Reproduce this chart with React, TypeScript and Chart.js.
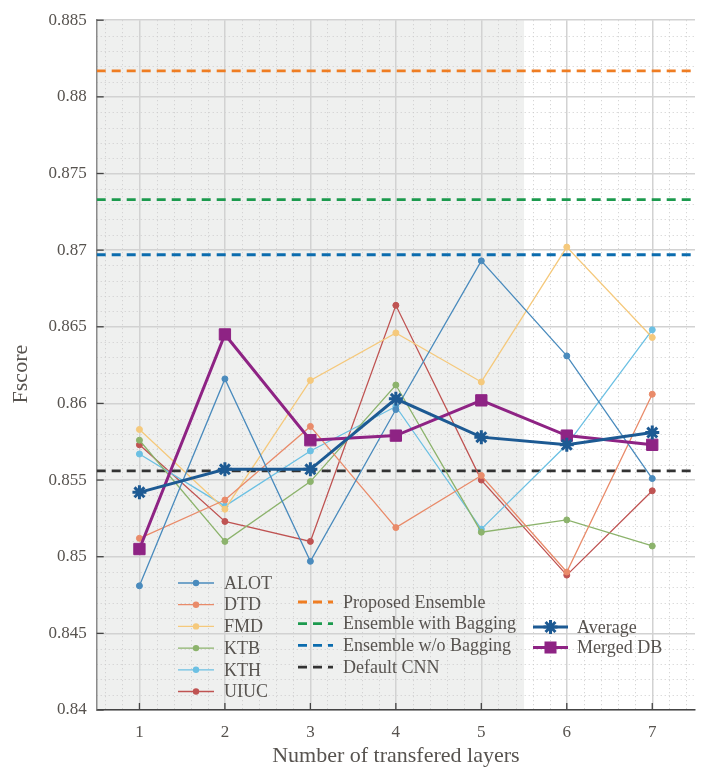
import React, { useEffect, useRef } from 'react';
import { Chart, registerables } from 'chart.js';

Chart.register(...registerables);

// ---- data ----
const layers = [1, 2, 3, 4, 5, 6, 7];
const alot = [0.8481, 0.8616, 0.8497, 0.8596, 0.8693, 0.8631, 0.8551];
const dtd = [0.8512, 0.8537, 0.8585, 0.8519, 0.8553, 0.8490, 0.8606];
const fmd = [0.8583, 0.8531, 0.8615, 0.8646, 0.8614, 0.8702, 0.8643];
const ktb = [0.8576, 0.8510, 0.8549, 0.8612, 0.8516, 0.8524, 0.8507];
const kth = [0.8567, 0.8533, 0.8569, 0.8598, 0.8518, 0.8573, 0.8648];
const uiuc = [0.8573, 0.8523, 0.8510, 0.8664, 0.8550, 0.8488, 0.8543];
const average = [0.8542, 0.8557, 0.8557, 0.8603, 0.8578, 0.8573, 0.8581];
const mergedDB = [0.8505, 0.8645, 0.8576, 0.8579, 0.8602, 0.8579, 0.8573];

const proposedEnsemble = 0.8817;
const ensembleWithBagging = 0.8733;
const ensembleWithoutBagging = 0.8697;
const defaultCNN = 0.8556;

const xRange = [0.5, 7.5];
const shadeRange = [0.5, 5.5];
const yTicks = [0.84, 0.845, 0.85, 0.855, 0.86, 0.865, 0.87, 0.875, 0.88, 0.885];

const FONT = '"Liberation Serif", "DejaVu Serif", serif';
const TEXT = '#57534f';

const seriesDefs = [
  { label: 'ALOT', data: alot, color: '#4a8bbd' },
  { label: 'DTD', data: dtd, color: '#e98b6a' },
  { label: 'FMD', data: fmd, color: '#f5c97c' },
  { label: 'KTB', data: ktb, color: '#8cb36c' },
  { label: 'KTH', data: kth, color: '#6cc0e3' },
  { label: 'UIUC', data: uiuc, color: '#bf5352' },
];

const refDefs = [
  { label: 'Proposed Ensemble', value: proposedEnsemble, color: '#ef7d22' },
  { label: 'Ensemble with Bagging', value: ensembleWithBagging, color: '#1c9a4e' },
  { label: 'Ensemble w/o Bagging', value: ensembleWithoutBagging, color: '#0b6cae' },
  { label: 'Default CNN', value: defaultCNN, color: '#333333' },
];

const AVG_COLOR = '#1d5a93';
const MERGED_COLOR = '#8e2384';

const toPts = (vals: number[]) => layers.map((x, i) => ({ x, y: vals[i] }));

function drawMarker(ctx: CanvasRenderingContext2D, kind: string, x: number, y: number, r: number, color: string, lw: number) {
  ctx.save();
  ctx.fillStyle = color;
  ctx.strokeStyle = color;
  ctx.lineWidth = lw;
  ctx.setLineDash([]);
  ctx.beginPath();
  if (kind === 'circle') {
    ctx.arc(x, y, r, 0, Math.PI * 2);
    ctx.fill();
  } else if (kind === 'rect') {
    const s = r * Math.SQRT1_2;
    ctx.fillRect(x - s, y - s, 2 * s, 2 * s);
  } else if (kind === 'star') {
    for (let k = 0; k < 4; k++) {
      const a = (k * Math.PI) / 4;
      ctx.moveTo(x - Math.sin(a) * r, y - Math.cos(a) * r);
      ctx.lineTo(x + Math.sin(a) * r, y + Math.cos(a) * r);
    }
    ctx.stroke();
  }
  ctx.restore();
}

const decorPlugin = {
  id: 'decor',
  beforeDraw(chart: any) {
    const { ctx, chartArea: a, scales } = chart;
    const xs = scales.x;
    const ys = scales.y;
    ctx.save();
    // shaded span
    const sx0 = xs.getPixelForValue(shadeRange[0]);
    const sx1 = xs.getPixelForValue(shadeRange[1]);
    ctx.fillStyle = '#eff0ef';
    ctx.fillRect(sx0, a.top, sx1 - sx0, a.bottom - a.top);
    // minor dotted grid
    ctx.strokeStyle = '#cdcdcd';
    ctx.lineWidth = 1;
    ctx.setLineDash([1, 3]);
    for (let k = 3; k <= 37; k++) {
      if (k % 5 === 0) continue;
      const px = Math.round(xs.getPixelForValue(k * 0.2)) + 0.5;
      ctx.beginPath();
      ctx.moveTo(px, a.top);
      ctx.lineTo(px, a.bottom);
      ctx.stroke();
    }
    for (let k = 1; k < 45; k++) {
      if (k % 5 === 0) continue;
      const py = Math.round(ys.getPixelForValue(0.84 + k * 0.001)) + 0.5;
      ctx.beginPath();
      ctx.moveTo(a.left, py);
      ctx.lineTo(a.right, py);
      ctx.stroke();
    }
    ctx.restore();
  },
  afterDraw(chart: any) {
    const { ctx, chartArea: a, scales } = chart;
    const xs = scales.x;
    const ys = scales.y;
    ctx.save();
    // inward tick marks
    ctx.strokeStyle = '#444';
    ctx.lineWidth = 1.3;
    ctx.setLineDash([]);
    yTicks.forEach((v) => {
      const py = ys.getPixelForValue(v);
      ctx.beginPath();
      ctx.moveTo(a.left, py);
      ctx.lineTo(a.left + 7, py);
      ctx.stroke();
    });
    layers.forEach((v) => {
      const px = xs.getPixelForValue(v);
      ctx.beginPath();
      ctx.moveTo(px, a.bottom);
      ctx.lineTo(px, a.bottom - 7);
      ctx.stroke();
    });

    // y-axis title
    ctx.save();
    ctx.translate(21, (a.top + a.bottom) / 2 + 9);
    ctx.rotate(-Math.PI / 2);
    ctx.font = `22px ${FONT}`;
    ctx.fillStyle = TEXT;
    ctx.textAlign = 'center';
    ctx.textBaseline = 'middle';
    ctx.fillText('Fscore', 0, 0);
    ctx.restore();

    // legends
    ctx.font = `18px ${FONT}`;
    ctx.textBaseline = 'middle';
    ctx.textAlign = 'left';
    // legend 1: series
    seriesDefs.forEach((s, i) => {
      const y = 583 + i * 21.7;
      ctx.strokeStyle = s.color;
      ctx.lineWidth = 1.3;
      ctx.beginPath();
      ctx.moveTo(178, y);
      ctx.lineTo(214, y);
      ctx.stroke();
      drawMarker(ctx, 'circle', 196, y, 3.2, s.color, 1);
      ctx.fillStyle = TEXT;
      ctx.fillText(s.label, 224, y + 1);
    });
    // legend 2: reference lines
    refDefs.forEach((r, i) => {
      const y = 602 + i * 21.7;
      ctx.strokeStyle = r.color;
      ctx.lineWidth = 2.8;
      ctx.setLineDash([9, 6]);
      ctx.beginPath();
      ctx.moveTo(298, y);
      ctx.lineTo(333, y);
      ctx.stroke();
      ctx.setLineDash([]);
      ctx.fillStyle = TEXT;
      ctx.fillText(r.label, 343, y + 1);
    });
    // legend 3: average / merged
    const l3 = [
      { label: 'Average', color: AVG_COLOR, kind: 'star', r: 7 },
      { label: 'Merged DB', color: MERGED_COLOR, kind: 'rect', r: 8.5 },
    ];
    l3.forEach((e, i) => {
      const y = 627 + i * 20.5;
      ctx.strokeStyle = e.color;
      ctx.lineWidth = 3;
      ctx.beginPath();
      ctx.moveTo(533, y);
      ctx.lineTo(568, y);
      ctx.stroke();
      drawMarker(ctx, e.kind, 550.5, y, e.r, e.color, 3);
      ctx.fillStyle = TEXT;
      ctx.fillText(e.label, 577, y + 1);
    });
    ctx.restore();
  },
};

export default function App() {
  const ref = useRef<HTMLCanvasElement | null>(null);

  useEffect(() => {
    if (!ref.current) return;
    const datasets: any[] = [];
    refDefs.forEach((r) => {
      datasets.push({
        label: r.label,
        data: xRange.map((x) => ({ x, y: r.value })),
        borderColor: r.color,
        borderWidth: 2.8,
        borderDash: [9, 6],
        pointRadius: 0,
        fill: false,
        order: 3,
      });
    });
    seriesDefs.forEach((s) => {
      datasets.push({
        label: s.label,
        data: toPts(s.data),
        borderColor: s.color,
        backgroundColor: s.color,
        pointBackgroundColor: s.color,
        pointBorderColor: s.color,
        borderWidth: 1.3,
        pointRadius: 3,
        pointBorderWidth: 1,
        fill: false,
        order: 2,
      });
    });
    datasets.push({
      label: 'Merged DB',
      data: toPts(mergedDB),
      borderColor: MERGED_COLOR,
      backgroundColor: MERGED_COLOR,
      pointBackgroundColor: MERGED_COLOR,
      pointBorderColor: MERGED_COLOR,
      pointStyle: 'rect',
      pointRadius: 8,
      pointBorderWidth: 1,
      borderWidth: 3,
      fill: false,
      order: 1,
    });
    datasets.push({
      label: 'Average',
      data: toPts(average),
      borderColor: AVG_COLOR,
      backgroundColor: AVG_COLOR,
      pointBackgroundColor: AVG_COLOR,
      pointBorderColor: AVG_COLOR,
      pointStyle: 'star',
      pointRadius: 7,
      pointBorderWidth: 3,
      borderWidth: 3,
      fill: false,
      order: 0,
    });

    const chart = new Chart(ref.current, {
      type: 'line',
      data: { datasets },
      plugins: [decorPlugin],
      options: {
        animation: false,
        responsive: true,
        maintainAspectRatio: false,
        layout: { padding: { top: 12.7, right: 20, bottom: 0, left: 0 } },
        plugins: { legend: { display: false }, tooltip: { enabled: false } },
        scales: {
          x: {
            type: 'linear',
            min: xRange[0],
            max: xRange[1],
            afterBuildTicks: (s: any) => {
              s.ticks = layers.map((v) => ({ value: v }));
            },
            afterFit: (s: any) => {
              s.height = 59;
            },
            grid: { color: '#d2d2d2', lineWidth: 1.5, drawTicks: false },
            border: { color: '#444', width: 1.5 },
            ticks: { padding: 12, color: TEXT, font: { family: FONT, size: 17 } },
            title: {
              display: true,
              text: 'Number of transfered layers',
              color: TEXT,
              font: { family: FONT, size: 22 },
              padding: { top: 0, bottom: 0 },
            },
          },
          y: {
            type: 'linear',
            min: 0.84,
            max: 0.885,
            afterBuildTicks: (s: any) => {
              s.ticks = yTicks.map((v) => ({ value: v }));
            },
            afterFit: (s: any) => {
              s.width = 96.7;
            },
            grid: { color: '#d2d2d2', lineWidth: 1.5, drawTicks: false },
            border: { color: '#8a8a8a', width: 1.5 },
            ticks: {
              padding: 10,
              color: TEXT,
              font: { family: FONT, size: 17 },
              callback: (v: any) => String(Number(Number(v).toFixed(3))),
            },
            title: { display: false },
          },
        },
      },
    });
    return () => chart.destroy();
  }, []);

  return (
    <div style={{ position: 'fixed', left: 0, top: 0, width: 715, height: 769, background: '#fff' }}>
      <canvas ref={ref} />
    </div>
  );
}
